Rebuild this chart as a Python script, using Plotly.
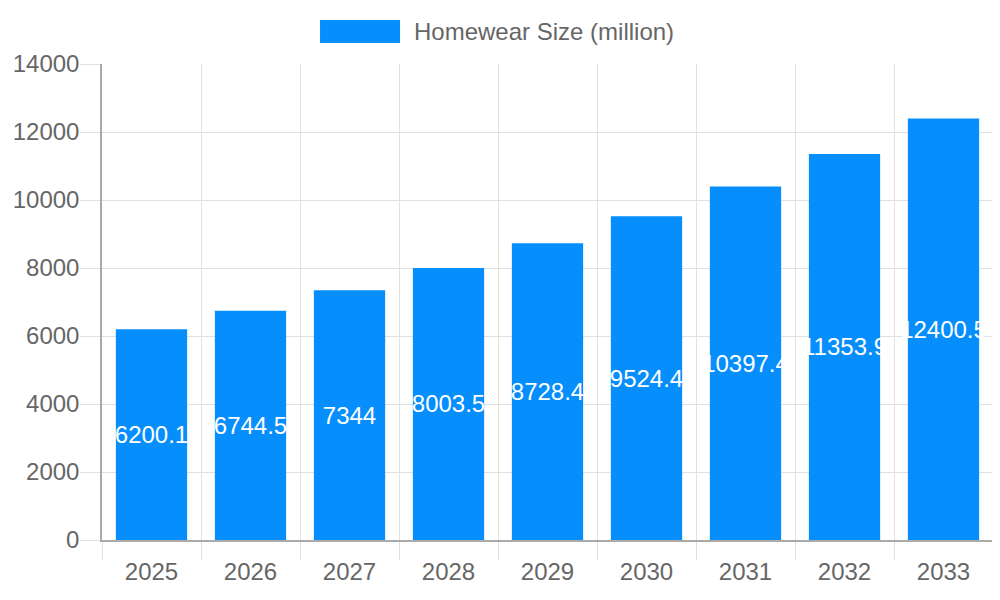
import plotly.graph_objects as go

years = ["2025", "2026", "2027", "2028", "2029", "2030", "2031", "2032", "2033"]
sizes = [6200.1, 6744.5, 7344, 8003.5, 8728.4, 9524.4, 10397.4, 11353.9, 12400.5]
series_name = "Homewear Size (million)"
y_ticks = [0, 2000, 4000, 6000, 8000, 10000, 12000, 14000]

bar_color = "#058efc"
grid_color = "#e1e1e1"
axis_color = "#aaaaaa"
text_gray = "#666666"

fig = go.Figure(go.Bar(
    x=years, y=sizes, name=series_name,
    marker_color=bar_color, marker_line_width=0,
    text=[f"{v:g}" for v in sizes],
    textposition="inside", insidetextanchor="middle", textangle=0,
    constraintext="none",
    textfont=dict(color="white", size=24),
))

# the page adds an 8px body margin, so margins are trimmed to compensate
fig.update_layout(
    width=1000, height=600,
    margin=dict(l=94, r=15, t=56, b=68),
    paper_bgcolor="white", plot_bgcolor="white",
    font=dict(family="Liberation Sans, Arial, sans-serif", size=24, color=text_gray),
    showlegend=False,
    bargap=0.28,
    uniformtext=dict(minsize=24, mode="show"),
)

fig.update_xaxes(
    type="category", tickson="boundaries", automargin=False,
    showgrid=True, gridcolor=grid_color, gridwidth=1,
    ticks="outside", ticklen=18, tickcolor=grid_color,
    ticklabelstandoff=9,
    showline=True, linecolor=axis_color, linewidth=1.5,
    tickfont=dict(size=24, color=text_gray),
)
fig.update_yaxes(
    range=[0, 14000], tickvals=y_ticks, tickformat="d", automargin=False,
    showgrid=True, gridcolor=grid_color, gridwidth=1,
    ticks="outside", ticklen=20, tickcolor=grid_color,
    ticklabelstandoff=-4,
    showline=True, linecolor=axis_color, linewidth=1.5,
    zeroline=False,
    tickfont=dict(size=24, color=text_gray),
)

# legend drawn by hand to mimic the wide colour box
fig.add_shape(type="rect", xref="paper", yref="paper",
              x0=0.2447, x1=0.3345, y0=1.0441, y1=1.0924,
              fillcolor=bar_color, line_width=0)
fig.add_annotation(xref="paper", yref="paper", x=0.348, y=1.0683,
                   text=series_name, showarrow=False,
                   xanchor="left", yanchor="middle",
                   font=dict(size=24, color=text_gray))

fig.write_html("out.html")
